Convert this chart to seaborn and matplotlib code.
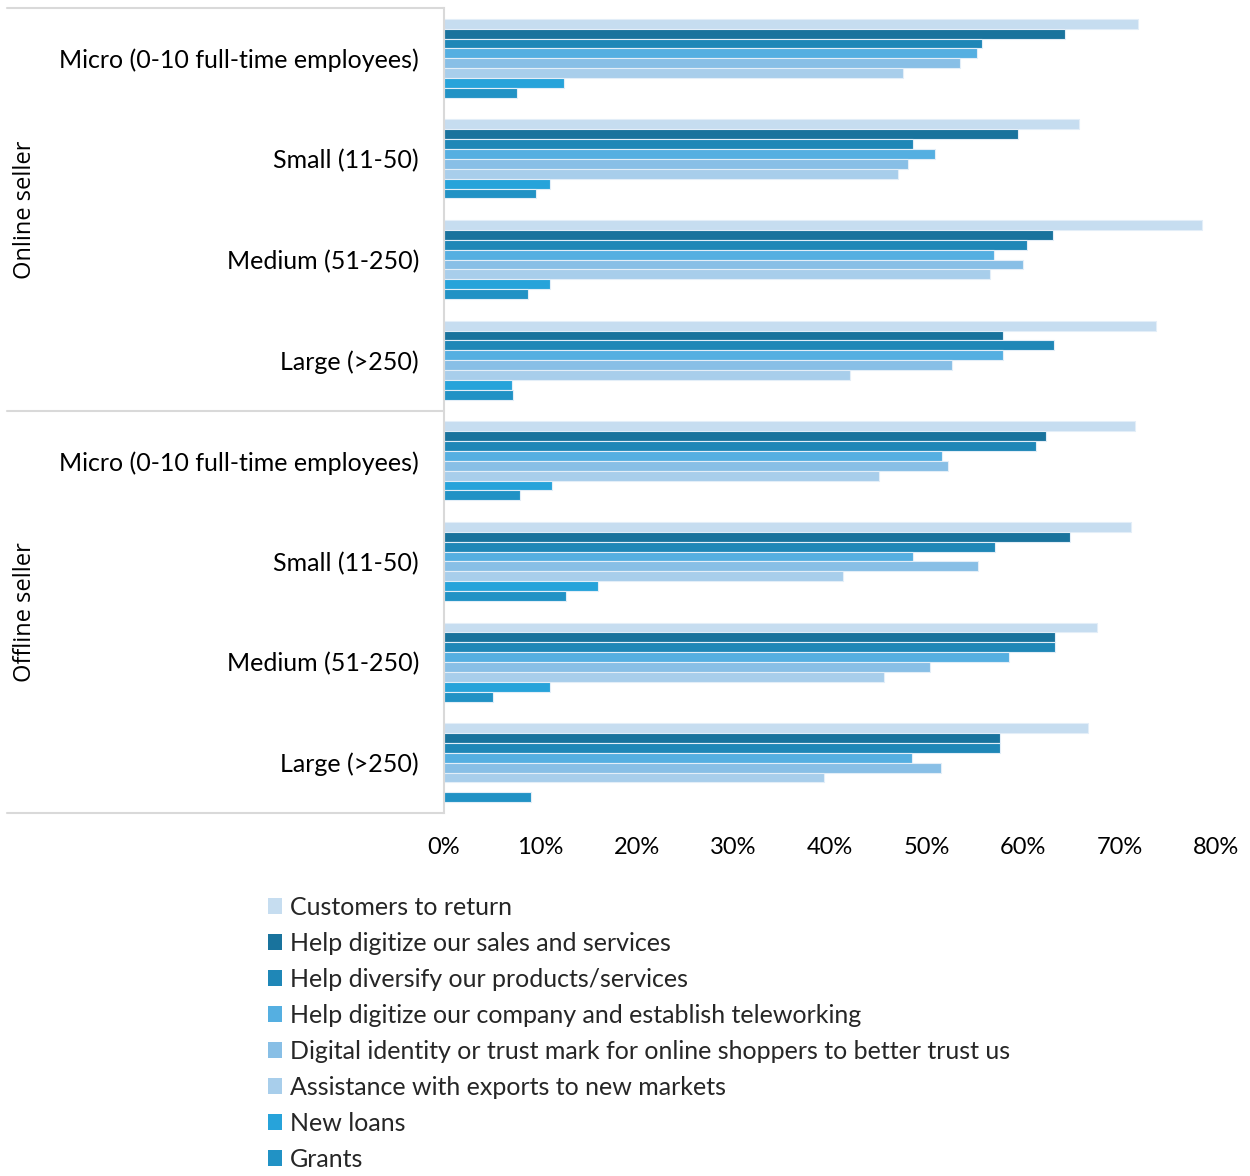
import numpy as np
import pandas as pd
import matplotlib
matplotlib.use("Agg")
import matplotlib.pyplot as plt
from matplotlib.lines import Line2D
from matplotlib.ticker import PercentFormatter
import seaborn as sns

# ---- data -------------------------------------------------------------
groups = ["Online seller", "Offline seller"]
sizes = ["Micro (0-10 full-time employees)", "Small (11-50)",
         "Medium (51-250)", "Large (>250)"]

series = [
    "Customers to return",
    "Help digitize our sales and services",
    "Help diversify our products/services",
    "Help digitize our company and establish teleworking",
    "Digital identity or trust mark for online shoppers to better trust us",
    "Assistance with exports to new markets",
    "New loans",
    "Grants",
]

# shares per row: Online Micro, Small, Medium, Large, Offline Micro, Small, Medium, Large
customers_to_return = [0.719, 0.658, 0.785, 0.738, 0.716, 0.712, 0.677, 0.667]
digitize_sales      = [0.644, 0.595, 0.631, 0.579, 0.624, 0.649, 0.633, 0.576]
diversify_products  = [0.557, 0.486, 0.604, 0.632, 0.613, 0.571, 0.633, 0.576]
digitize_company    = [0.552, 0.509, 0.570, 0.579, 0.516, 0.486, 0.586, 0.485]
digital_identity    = [0.535, 0.481, 0.600, 0.526, 0.522, 0.553, 0.504, 0.515]
export_assistance   = [0.476, 0.470, 0.566, 0.421, 0.451, 0.413, 0.456, 0.394]
new_loans           = [0.124, 0.110, 0.110, 0.070, 0.112, 0.160, 0.110, np.nan]
grants              = [0.076, 0.095, 0.087, 0.071, 0.079, 0.126, 0.051, 0.090]

colors = ["#C6DDF0", "#19739D", "#1F87B7", "#55AFE1",
          "#88BFE6", "#A8CEEB", "#27A3DA", "#2192C5"]

values = [customers_to_return, digitize_sales, diversify_products,
          digitize_company, digital_identity, export_assistance,
          new_loans, grants]

rows = [f"{g}|{s}" for g in groups for s in sizes]
df = pd.DataFrame(
    [(r, name, v) for name, vals in zip(series, values) for r, v in zip(rows, vals)],
    columns=["row", "series", "share"],
)

# ---- figure -----------------------------------------------------------
sns.set_theme(style="white")
plt.rcParams["font.family"] = ["Lato", "DejaVu Sans"]

W, H = 1250, 1176
fig = plt.figure(figsize=(W / 100, H / 100), dpi=100)
ax_left, ax_right, ax_top, ax_bottom = 444, 1216, 8, 813
ax = fig.add_axes([ax_left / W, 1 - ax_bottom / H,
                   (ax_right - ax_left) / W, (ax_bottom - ax_top) / H])

sns.barplot(data=df, y="row", x="share", hue="series", order=rows,
            hue_order=series, palette=colors, orient="h", width=0.785,
            edgecolor="#E3EEF8", linewidth=0.8, saturation=1, ax=ax)

ax.set_xlim(0, 0.8)
ax.set_xticks(np.arange(0, 0.81, 0.1))
ax.xaxis.set_major_formatter(PercentFormatter(1.0, decimals=0))
ax.set_yticklabels(sizes * 2)
ax.set_xlabel("")
ax.set_ylabel("")
ax.tick_params(axis="y", length=0, pad=18, labelsize=18, labelcolor="black")
ax.tick_params(axis="x", length=0, pad=17, labelsize=17, labelcolor="black")

for side in ["top", "right", "bottom"]:
    ax.spines[side].set_visible(False)
ax.spines["left"].set_color("#D9D9D9")
ax.spines["left"].set_linewidth(1.5)

# frame lines for the grouping table on the left
frame_kw = dict(color="#D9D9D9", linewidth=1.5, transform=fig.transFigure)
for yy in [8, 411, 813]:
    fig.add_artist(Line2D([7 / W, ax_left / W], [1 - yy / H, 1 - yy / H], **frame_kw))

# group labels
for g, yc in zip(groups, [209.5, 612]):
    fig.text(25 / W, 1 - yc / H, g, rotation=90, ha="center", va="center",
             fontsize=17, family=["Open Sans", "DejaVu Sans"], color="black")

# legend below the chart
sns.move_legend(ax, "upper left", bbox_to_anchor=((268 - ax_left) / (ax_right - ax_left),
                                                   -(896 - ax_bottom) / (ax_bottom - ax_top)),
                frameon=False, title=None, fontsize=18, ncol=1,
                handlelength=0.58, handleheight=0.58, handletextpad=0.3,
                labelspacing=0.52, borderpad=0, borderaxespad=0)
for h in ax.get_legend().legend_handles:
    h.set_edgecolor("none")

fig.savefig("out.png", dpi=100)
